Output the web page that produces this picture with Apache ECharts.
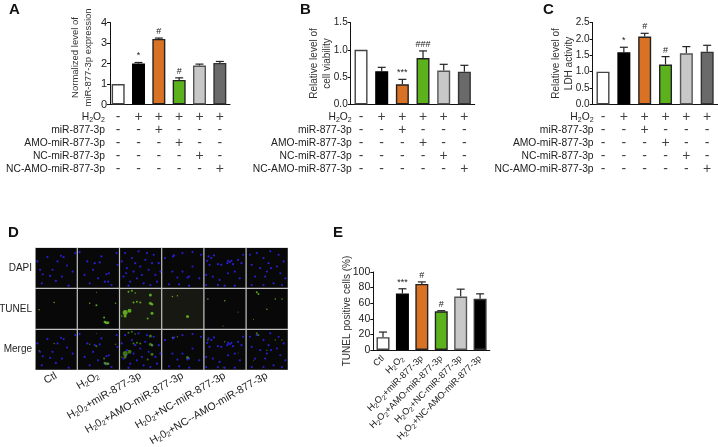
<!DOCTYPE html>
<html>
<head>
<meta charset="utf-8">
<style>html,body{margin:0;padding:0;background:#fff}#c{width:718px;height:447px}</style>
<script src="https://cdn.jsdelivr.net/npm/echarts@6/dist/echarts.min.js"></script>
</head>
<body>
<div id="c"></div>
<script>
const rowLabels = ['H2O2','miR-877-3p','AMO-miR-877-3p','NC-miR-877-3p','NC-AMO-miR-877-3p'];
const rowSigns = [
  ['-','+','+','+','+','+'],
  ['-','-','+','-','-','-'],
  ['-','-','-','+','-','-'],
  ['-','-','-','-','+','-'],
  ['-','-','-','-','-','+']
];
const groupIds = ['1','2','3','4','5','6'];
const aValues = [1, 2.0, 3.2, 1.2, 1.9, 2.03];
const aTops   = [1, 2.05, 3.24, 1.3, 1.97, 2.1];
const aSig    = ['', '*', '#', '#', '', ''];
const bValues = [1, 0.61, 0.37, 0.85, 0.62, 0.60];
const bTops   = [1, 0.68, 0.46, 0.98, 0.735, 0.717];
const bSig    = ['', '', '***', '###', '', ''];
const cValues = [1, 1.59, 2.07, 1.22, 1.56, 1.61];
const cTops   = [1, 1.745, 2.17, 1.46, 1.765, 1.805];
const cSig    = ['', '*', '#', '#', '', ''];
const eValues = [16.5, 72.5, 84.7, 49.6, 68.6, 65.7];
const eTops   = [23, 78.5, 87.3, 50.4, 78, 72];
const eSig    = ['', '***', '#', '#', '', ''];
const eLabels = ['Ctl','H2O2','H2O2+miR-877-3p','H2O2+AMO-miR-877-3p','H2O2+NC-miR-877-3p','H2O2+NC-AMO-miR-877-3p'];
const dLabels = ['Ctl','H2O2','H202+miR-877-3p','H202+AMO-miR-877-3p','H202+NC-miR-877-3p','H202+NC--AMO-miR-877-3p'];
const dRows = ['DAPI','TUNEL','Merge'];
const dapiDots = [
 [[35,27],[75,23],[83,27],[13,65],[21,78],[50,65],[93,52],[60,98],[43,83],[78,85],[98,112],[5,40],[118,15],[18,105],[110,70],[65,40]],
 [[28,40],[50,45],[65,43],[85,78],[92,75],[80,100],[90,100],[35,105],[20,80],[45,65],[115,15],[118,50],[5,12],[70,25],[100,110],[60,90]],
 [[15,15],[35,30],[55,10],[75,35],[100,20],[115,45],[20,60],[40,70],[60,55],[85,65],[105,80],[10,85],[30,100],[50,90],[70,105],[90,110],[110,100],[5,40],[45,45],[95,45],[18,75],[65,80],[120,70],[25,112],[80,15]],
 [[8,30],[32,25],[35,22],[60,15],[90,55],[30,70],[60,70],[75,88],[80,85],[20,108],[50,108],[80,112],[110,90],[115,20],[90,12],[45,88]],
 [[70,38],[75,42],[80,38],[68,45],[85,48],[12,25],[20,30],[28,22],[8,38],[15,50],[50,50],[40,48],[100,35],[110,45],[5,80],[25,85],[45,95],[70,75],[90,70],[105,90],[5,110],[40,110],[60,112],[115,20],[90,112]],
 [[10,20],[30,15],[50,30],[70,10],[95,20],[15,50],[40,60],[65,45],[90,55],[110,40],[25,85],[55,85],[72,60],[100,75],[115,90],[15,110],[50,110],[80,105],[60,70],[105,110]]
];
const tunelDots = [
 [[55,40,1.5],[10,62,1.5]],
 [[35,42,1.5],[55,48,2],[78,85,2],[85,100,3],[90,100,2.5],[80,98,2.5],[55,10,1],[112,42,1.5]],
 [[25,8,2],[35,5,2],[90,18,3],[40,40,2],[50,38,2],[90,42,3],[95,45,2.5],[15,70,5],[28,65,4],[95,72,3],[82,88,2],[45,12,1.5],[60,40,2],[15,80,3],[5,80,1.5]],
 [[30,22,1.5],[45,20,1.5],[75,82,3]],
 [[10,30,1.5],[60,35,1.5],[100,68,1],[55,110,1]],
 [[30,10,2],[35,15,2],[60,60,1.5],[85,30,1.5],[105,30,1.5],[20,90,1]]
];

const INK = '#222';
const FONT = '"Liberation Sans", Arial, sans-serif';
const fills = ['#ffffff','#000000','#d97224','#5cb21c','#c8c8c8','#6a6a6a'];
const borders = ['#444','#000','#222','#222','#555','#333'];
const eFills = ['#ffffff','#000000','#d97224','#5cb21c','#c8c8c8','#000000'];

const subRich = { sub: { fontSize: 7, padding: [5, 0, 0, 0], color: INK, fontFamily: FONT } };
const fmt = s => s.replace(/H2([O0])2/g, 'H{sub|2}$1{sub|2}');

const grid = [], xAxis = [], yAxis = [], series = [];
function addGrid(g, x, y) {
  grid.push(Object.assign({ outerBoundsMode: 'none' }, g));
  const i = grid.length - 1;
  xAxis.push(Object.assign({ gridIndex: i }, x));
  yAxis.push(Object.assign({ gridIndex: i }, y));
  return i;
}
function barPanel(o) {
  const i = addGrid(
    { left: o.left, top: o.top, width: o.width, height: o.height },
    { type: 'category', data: o.labels || groupIds, axisTick: { show: false },
      axisLine: { lineStyle: { color: '#111', width: 1 } },
      axisLabel: o.labels ? { interval: 0, rotate: 45, margin: 7, fontSize: 9.2, color: INK, fontFamily: FONT, formatter: fmt, rich: subRich } : { show: false } },
    { type: 'value', min: 0, max: o.max, interval: o.interval, offset: o.offset || 0,
      name: o.name, nameLocation: 'middle', nameGap: o.nameGap, nameMoveOverlap: false,
      nameTextStyle: { fontSize: o.nameSize || 10, color: '#333', fontFamily: FONT, lineHeight: 13, padding: o.namePad || 0 },
      splitLine: { show: false },
      axisLine: { show: true, lineStyle: { color: '#111', width: 1 } },
      axisTick: { show: true, length: 3, lineStyle: { color: '#111' } },
      axisLabel: { margin: 3, fontSize: o.tickSize || 10, color: INK, fontFamily: FONT,
        formatter: v => o.decimals ? v.toFixed(o.decimals) : String(v) } }
  );
  const f = o.fills || fills;
  series.push({ type: 'bar', xAxisIndex: i, yAxisIndex: i, barWidth: 13, silent: true,
    data: o.values.map((v, k) => ({ value: v, itemStyle: { color: f[k], borderColor: borders[k], borderWidth: 1.4 } })) });
  series.push({ type: 'custom', xAxisIndex: i, yAxisIndex: i, silent: true, z: 1, clip: false,
    data: o.values.map((v, k) => [k, v, o.tops[k]]),
    renderItem: (p, api) => {
      const a = api.coord([api.value(0), api.value(1)]);
      const b = api.coord([api.value(0), api.value(2)]);
      const kids = [];
      if (api.value(2) > api.value(1)) {
        const st = { stroke: '#222', lineWidth: 1.2 };
        kids.push({ type: 'line', shape: { x1: a[0], y1: a[1], x2: b[0], y2: b[1] }, style: st });
        kids.push({ type: 'line', shape: { x1: b[0] - 4, y1: b[1], x2: b[0] + 4, y2: b[1] }, style: st });
      }
      const s = o.sig[p.dataIndex];
      if (s) kids.push({ type: 'text', style: { x: b[0], y: b[1] - 2, text: s, fill: '#222', fontSize: 9, fontFamily: FONT, align: 'center', verticalAlign: 'bottom' } });
      return { type: 'group', children: kids };
    } });
}
function signTable(o) {
  const i = addGrid(
    { left: o.left, top: 111, width: o.width, height: 65 },
    { type: 'category', data: groupIds, show: false },
    { type: 'category', inverse: true, data: rowLabels,
      axisLine: { show: false }, axisTick: { show: false },
      axisLabel: { interval: 0, margin: o.margin, fontSize: 10.3, color: INK, fontFamily: FONT, formatter: fmt, rich: subRich } }
  );
  const d = [];
  rowSigns.forEach((r, ri) => r.forEach((s, ci) => d.push([ci, ri, s])));
  series.push({ type: 'scatter', xAxisIndex: i, yAxisIndex: i, silent: true, symbolSize: 1,
    itemStyle: { color: 'rgba(0,0,0,0)' }, data: d,
    label: { show: true, position: 'inside', fontSize: 14, color: '#111', fontFamily: FONT,
      formatter: p => p.value[2] } });
}

barPanel({ left: 108, top: 22.5, width: 122, height: 82, values: aValues, tops: aTops, sig: aSig, max: 4, interval: 1,
  offset: -2, tickSize: 11, name: 'Normalized level of\nmiR-877-3p expression', nameGap: 15, nameSize: 9.5, namePad: [0, 0, 0, 12] });
signTable({ left: 108, width: 122, margin: 3 });
barPanel({ left: 350.7, top: 22.5, width: 124, height: 82, values: bValues, tops: bTops, sig: bSig, max: 1.5, interval: 0.5,
  decimals: 1, name: 'Relative level of\ncell viability', nameGap: 17 });
signTable({ left: 350.7, width: 124, margin: -1 });
barPanel({ left: 592.6, top: 22.5, width: 125, height: 82, values: cValues, tops: cTops, sig: cSig, max: 2.5, interval: 0.5,
  decimals: 1, name: 'Relative level of\nLDH activity', nameGap: 17 });
signTable({ left: 592.6, width: 125, margin: -1 });
barPanel({ left: 373.3, top: 272, width: 116.5, height: 78, values: eValues, tops: eTops, sig: eSig, max: 100, interval: 20,
  labels: eLabels, fills: eFills, name: 'TUNEL positive cells (%)', nameGap: 20, tickSize: 10.5 });

// Panel D: frame with labels, then one small grid per image cell
const frame = addGrid(
  { left: 35, top: 247.5, width: 253, height: 122.5, show: true, backgroundColor: '#c4c4c4', borderWidth: 0 },
  { type: 'category', data: dLabels, axisLine: { show: false }, axisTick: { show: false },
    axisLabel: { interval: 0, rotate: 30, margin: 5, fontSize: 10.7, color: INK, fontFamily: FONT, formatter: fmt, rich: subRich } },
  { type: 'category', inverse: true, data: dRows, axisLine: { show: false }, axisTick: { show: false },
    axisLabel: { interval: 0, margin: 3, fontSize: 10, color: INK, fontFamily: FONT } }
);
series.push({ type: 'scatter', xAxisIndex: frame, yAxisIndex: frame, symbolSize: 0, data: [], silent: true });
function cell(r, c, sets) {
  const i = addGrid(
    { left: 35.7 + 42.2 * c, top: 248 + 41 * r, width: 41, height: 39.7, show: true, borderWidth: 0,
      backgroundColor: (r === 1 && (c === 2 || c === 3)) ? '#171811' : '#080808' },
    { type: 'value', min: 0, max: 122, show: false },
    { type: 'value', min: 0, max: 118, inverse: true, show: false }
  );
  sets.forEach(s => series.push({ type: 'scatter', xAxisIndex: i, yAxisIndex: i, silent: true, data: s.data,
    symbolSize: v => v[2] || s.size, itemStyle: { color: s.color, opacity: s.opacity } }));
}
for (let c = 0; c < 6; c++) {
  const blue = { data: dapiDots[c], size: 2.2, color: '#2a22e6', opacity: 0.9 };
  const green = { data: tunelDots[c], size: 1.5, color: '#6fcb25', opacity: 0.8 };
  cell(0, c, [blue]);
  cell(1, c, [green]);
  cell(2, c, [blue, Object.assign({}, green, { opacity: 0.55 })]);
}

const letters = [['A', 9, 2], ['B', 300, 2], ['C', 543, 2], ['D', 8, 225], ['E', 333, 225]];
const option = {
  animation: false,
  backgroundColor: '#fff',
  textStyle: { fontFamily: FONT },
  title: letters.map(l => ({ text: l[0], left: l[1], top: l[2], padding: 0,
    textStyle: { fontSize: 15, fontWeight: 'bold', color: '#111', fontFamily: FONT } })),
  grid, xAxis, yAxis, series
};
echarts.init(document.getElementById('c'), null, { renderer: 'canvas' }).setOption(option);
</script>
</body>
</html>
